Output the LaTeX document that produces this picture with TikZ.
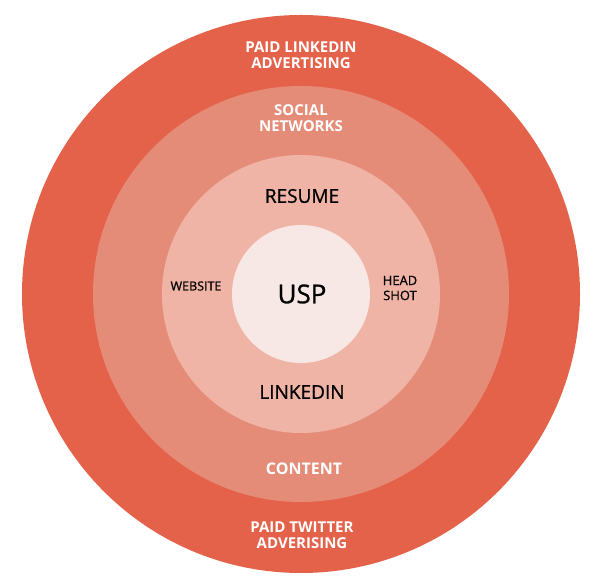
\documentclass[tikz,border=0pt]{standalone}
\usepackage{fontspec}
\setmainfont{Open Sans}
\newfontfamily\semi[FakeBold=0.9]{Open Sans}
\begin{document}
\begin{tikzpicture}[x=1pt,y=1pt,
  wt/.style={text=white,font=\fontsize{15}{16}\selectfont\bfseries,align=center},
  bk/.style={text=black,font=\semi\fontsize{19}{20}\selectfont,align=center},
  sm/.style={text=black,font=\semi\fontsize{13}{15}\selectfont,align=center}]
\definecolor{c1}{HTML}{E4614A}
\definecolor{c2}{HTML}{E58C78}
\definecolor{c3}{HTML}{F0B4A6}
\definecolor{c4}{HTML}{F8E8E5}
\useasboundingbox (0,0) rectangle (600,586);
\fill[white] (0,0) rectangle (600,586);
\coordinate (o) at (301,292);
\fill[c1] (o) circle (279);
\fill[c2] (o) circle (208);
\fill[c3] (o) circle (139);
\fill[c4] (o) circle (69);
\node[wt] (pl) at (301,531) {PAID LINKEDIN\\ADVERTISING};
\node[wt] (sn) at (301,468) {SOCIAL\\NETWORKS};
\node[bk] (re) at (302,390) {RESUME};
\node[sm,font=\semi\fontsize{12.5}{14}\selectfont] (ws) at (196,300) {WEBSITE};
\node[text=black,font=\semi\fontsize{26}{27}\selectfont] (usp) at (302,292) {USP};
\node[sm] (hs) at (400,298) {HEAD\\SHOT};
\node[bk] (li) at (302,194) {LINKEDIN};
\node[wt,font=\fontsize{16}{17}\selectfont\bfseries] (co) at (304,117) {CONTENT};
\node[wt] (pt) at (302,51) {PAID TWITTER\\ADVERISING};
\end{tikzpicture}
\end{document}
